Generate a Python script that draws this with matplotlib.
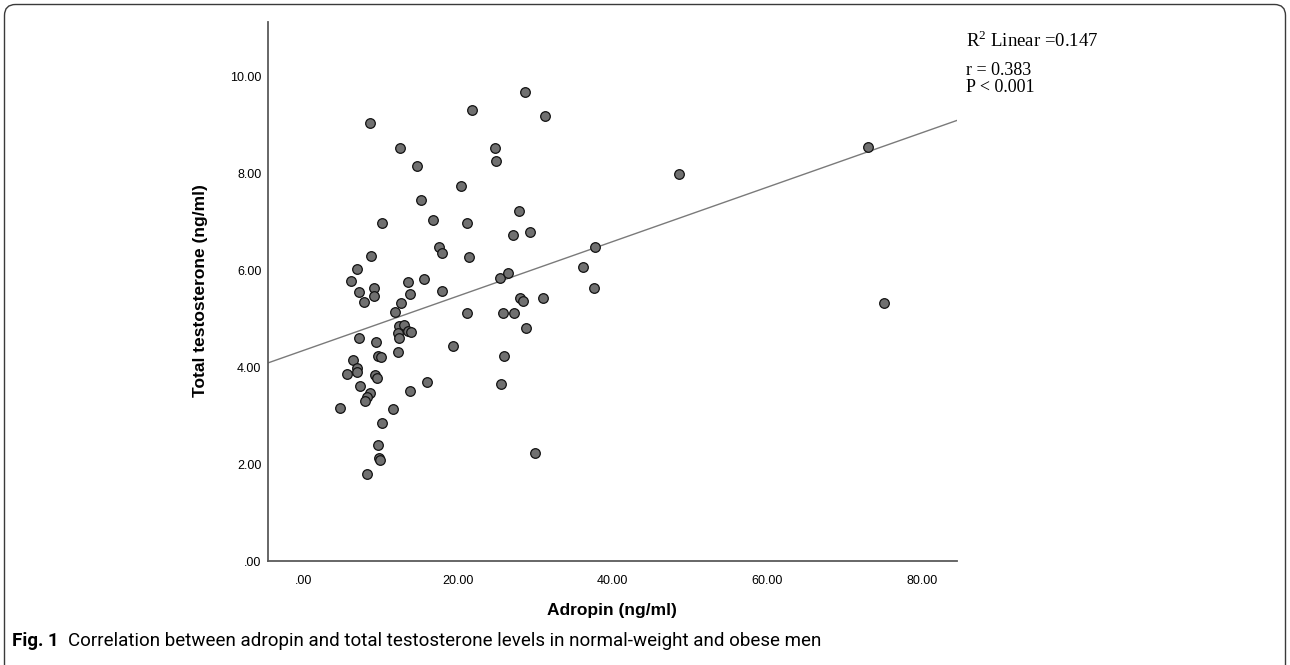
import numpy as np
import matplotlib.pyplot as plt
from matplotlib import font_manager
from matplotlib.patches import FancyBboxPatch

# values
adropin = [28.66, 21.77, 31.29, 8.58, 12.50, 24.78, 24.87, 14.70, 20.39, 15.18,
           27.89, 10.17, 16.77, 21.12, 27.11, 29.31, 17.50, 17.89, 8.79, 21.46,
           6.90, 6.17, 9.18, 7.16, 9.10, 7.81, 13.57, 13.79, 15.64, 17.89,
           12.67, 11.86, 25.39, 26.50, 36.20, 28.02, 28.44, 30.99, 21.12, 25.82,
           27.28, 28.79, 12.33, 13.06, 12.24, 13.50, 13.92, 12.41, 7.16, 9.40,
           19.39, 12.28, 9.70, 10.01, 6.39, 6.90, 6.90, 5.65, 25.91, 9.27,
           9.57, 7.37, 8.66, 8.20, 8.02, 15.99, 13.79, 25.52, 4.74, 11.56,
           10.17, 9.66, 9.75, 9.92, 8.20, 29.95, 73.04, 48.61, 37.71, 37.58,
           75.04]
testosterone = [9.68, 9.32, 9.20, 9.04, 8.53, 8.53, 8.26, 8.15, 7.74, 7.46,
                7.24, 6.99, 7.05, 6.98, 6.73, 6.80, 6.48, 6.36, 6.30, 6.27,
                6.03, 5.79, 5.63, 5.55, 5.48, 5.36, 5.77, 5.52, 5.83, 5.58,
                5.33, 5.15, 5.85, 5.94, 6.07, 5.43, 5.38, 5.44, 5.12, 5.13,
                5.12, 4.81, 4.86, 4.87, 4.70, 4.75, 4.72, 4.60, 4.60, 4.52,
                4.44, 4.32, 4.23, 4.21, 4.16, 3.99, 3.90, 3.87, 4.24, 3.85,
                3.77, 3.61, 3.48, 3.39, 3.31, 3.70, 3.52, 3.65, 3.17, 3.13,
                2.85, 2.40, 2.12, 2.08, 1.79, 2.23, 8.56, 7.99, 6.49, 5.63,
                5.32]

x_ticks = [0, 20, 40, 60, 80]
x_tick_labels = [".00", "20.00", "40.00", "60.00", "80.00"]
y_ticks = [0, 2, 4, 6, 8, 10]
y_tick_labels = [".00", "2.00", "4.00", "6.00", "8.00", "10.00"]

r2_text = "R$^{2}$ Linear =0.147"
r_text = "r = 0.383"
p_text = "P < 0.001"
caption_head = "Fig. 1"
caption = "Correlation between adropin and total testosterone levels in normal-weight and obese men"

plt.rcParams['mathtext.fontset'] = 'custom'
plt.rcParams['mathtext.rm'] = 'Liberation Serif'

names = {f.name for f in font_manager.fontManager.ttflist}
cap_font = 'Liberation Sans Narrow' if 'Liberation Sans Narrow' in names else 'Roboto'

W, H = 1290, 665
fig = plt.figure(figsize=(W / 100, H / 100), dpi=100)

# page frame with rounded top corners (bottom runs off the image)
bg = fig.add_axes([0, 0, 1, 1])
bg.set_xlim(0, W)
bg.set_ylim(H, 0)
bg.axis('off')
bg.add_patch(FancyBboxPatch((4.5, 4.5), 1281, 720, boxstyle="round,pad=0,rounding_size=11",
                            fill=False, ec='#3a3a3a', lw=1.0))

ax = fig.add_axes([268.3 / W, 1 - 561 / H, (956.7 - 268.3) / W, (561 - 21.7) / H])
ax.patch.set_alpha(0)
ax.set_xlim(-4.52, 84.5)
ax.set_ylim(0, 11.14)

ax.scatter(adropin, testosterone, s=48, c='#707070', edgecolors='#111111',
           linewidths=0.9, zorder=3)
coef = np.polyfit(adropin, testosterone, 1)
xs = np.array(ax.get_xlim())
ax.plot(xs, np.polyval(coef, xs), color='#7a7a7a', lw=1.0, zorder=2)

for s in ['top', 'right']:
    ax.spines[s].set_visible(False)
for s in ['left', 'bottom']:
    ax.spines[s].set_color('#5a5a5a')
    ax.spines[s].set_linewidth(1.3)

ax.set_xticks(x_ticks)
ax.set_xticklabels(x_tick_labels, fontfamily='Liberation Sans', fontsize=9)
ax.set_yticks(y_ticks)
ax.set_yticklabels(y_tick_labels, fontfamily='Liberation Sans', fontsize=9)
ax.tick_params(axis='x', length=0, pad=10)
ax.tick_params(axis='y', length=0, pad=5)

fig.text(200 / W, 1 - 291 / H, "Total testosterone (ng/ml)", rotation=90,
         ha='center', va='center', fontfamily='Liberation Sans', fontweight='bold', fontsize=12.5)
fig.text(612 / W, 1 - 611 / H, "Adropin (ng/ml)", ha='center', va='center',
         fontfamily='Liberation Sans', fontweight='bold', fontsize=12.5)

fig.text(966 / W, 1 - 46.7 / H, r2_text, ha='left', va='baseline',
         fontfamily='Liberation Serif', fontsize=13.5)
fig.text(966 / W, 1 - 75 / H, r_text, ha='left', va='baseline',
         fontfamily='Liberation Serif', fontsize=13)
fig.text(966 / W, 1 - 91.7 / H, p_text, ha='left', va='baseline',
         fontfamily='Liberation Serif', fontsize=13)

fig.text(12 / W, 1 - 641 / H, caption_head, ha='left', va='center',
         fontfamily=cap_font, fontweight='bold', fontsize=13.5)
fig.text(68 / W, 1 - 641 / H, caption, ha='left', va='center',
         fontfamily=cap_font, fontsize=13.5)

fig.savefig('out.png', dpi=100)
